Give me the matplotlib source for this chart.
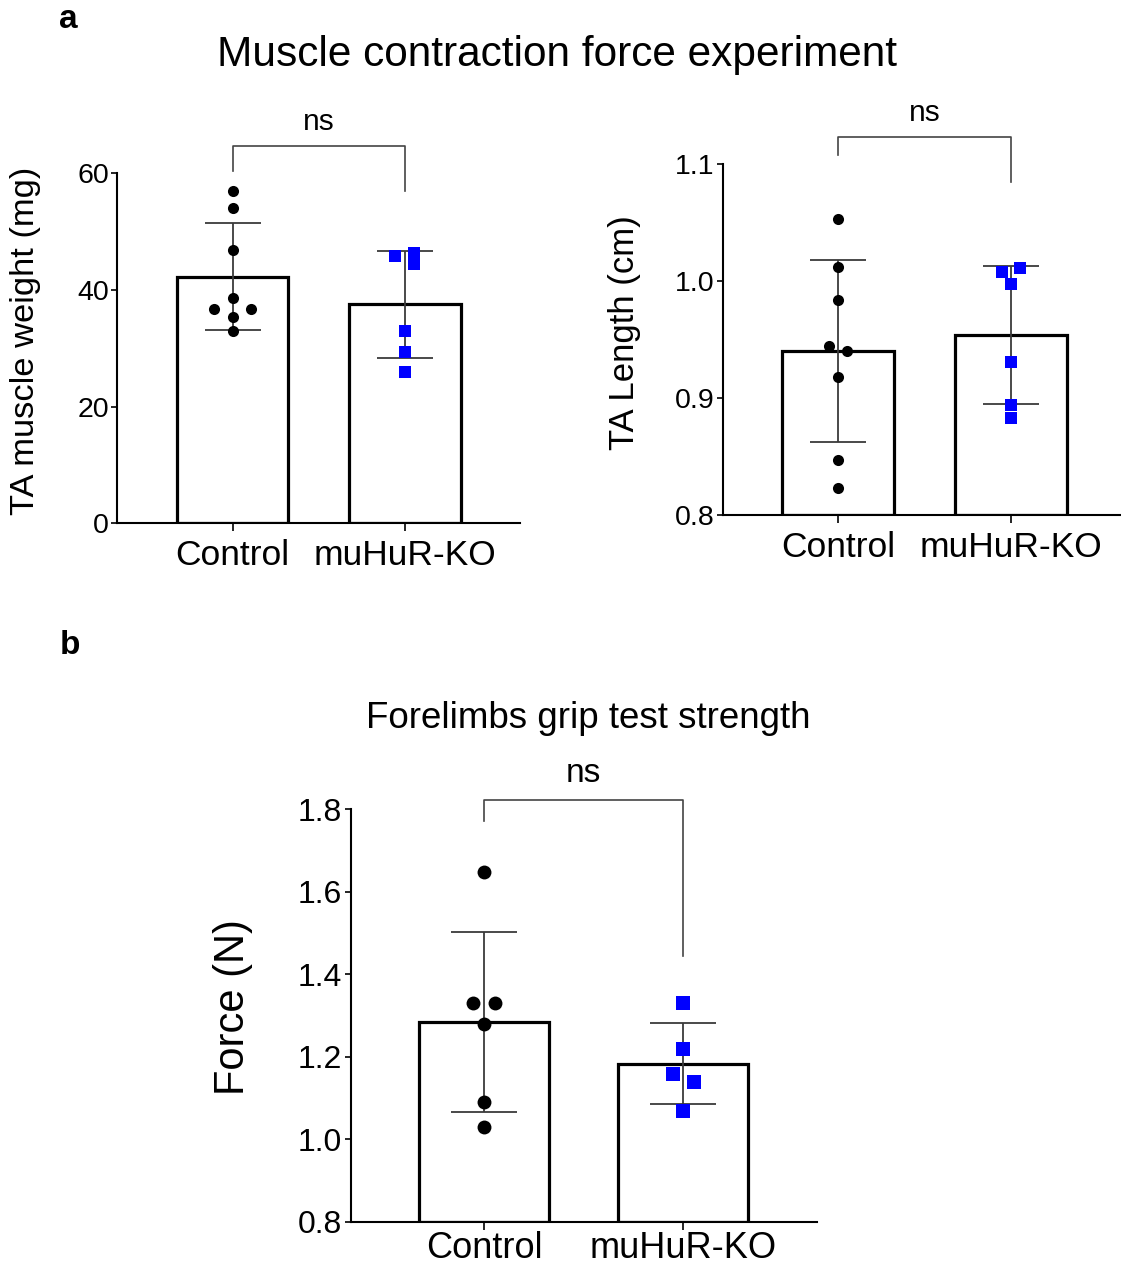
import numpy as np
import matplotlib.pyplot as plt

plt.rcParams["font.family"] = ["Liberation Sans", "DejaVu Sans"]

GROUPS = ["Control", "muHuR-KO"]

# panel a, left: TA muscle weight (mg)
weight_ctrl = [56.9, 54.1, 46.9, 38.7, 36.7, 36.7, 35.3, 32.9]
weight_ko = [45.9, 46.4, 44.5, 33.0, 29.4, 25.9]

# panel a, right: TA length (cm)
length_ctrl = [1.053, 1.012, 0.984, 0.945, 0.940, 0.918, 0.847, 0.823]
length_ko = [1.008, 1.011, 0.998, 0.931, 0.894, 0.883]

# panel b: forelimb grip force (N)
force_ctrl = [1.649, 1.330, 1.330, 1.279, 1.090, 1.029]
force_ko = [1.330, 1.220, 1.159, 1.140, 1.069]

# side-by-side spread of points with near-equal values (fraction of bar spacing)
weight_ctrl_dx = [0, 0, 0, 0, -0.105, 0.105, 0, 0]
weight_ko_dx = [-0.055, 0.055, 0.055, 0, 0, 0]
length_ctrl_dx = [0, 0, 0, -0.053, 0.053, 0, 0, 0]
length_ko_dx = [-0.053, 0.053, 0, 0, 0, 0]
force_ctrl_dx = [0, -0.054, 0.054, 0, 0, 0]
force_ko_dx = [0, 0, -0.053, 0.053, 0]

BLUE = "#0000ff"
ERR = "#3a3a3a"


def bar_panel(ax, ctrl, ko, ctrl_dx, ko_dx, ylim, yticks, fmt, capsize, msize,
              tick_fs, xtick_fs, bracket, ns_y, ns_fs, xpad=6):
    data = [np.array(ctrl), np.array(ko)]
    means = [d.mean() for d in data]
    sds = [d.std(ddof=1) for d in data]
    x = np.arange(2)
    ax.bar(x, [m - ylim[0] for m in means], bottom=ylim[0], width=0.65,
           color="white", edgecolor="black", linewidth=2.3, zorder=2)
    ax.errorbar(x, means, yerr=sds, fmt="none", ecolor=ERR, elinewidth=1.3,
                capsize=capsize, capthick=1.3, zorder=3)
    ax.scatter(x[0] + np.array(ctrl_dx), data[0], s=msize ** 2, color="black",
               marker="o", zorder=4, linewidths=0)
    ax.scatter(x[1] + np.array(ko_dx), data[1], s=msize ** 2, color=BLUE,
               marker="s", zorder=4, linewidths=0)

    # significance bracket
    top, left_end, right_end = bracket
    ax.plot([0, 0, 1, 1], [left_end, top, top, right_end], color="#444444",
            lw=1.2, clip_on=False, zorder=5)
    ax.text(0.5, ns_y, "ns", ha="center", va="center", fontsize=ns_fs)

    ax.set_ylim(*ylim)
    ax.set_yticks(yticks)
    ax.set_yticklabels([fmt.format(v) for v in yticks], fontsize=tick_fs)
    ax.set_xticks(x)
    ax.set_xticklabels(GROUPS, fontsize=xtick_fs)
    for side in ["top", "right"]:
        ax.spines[side].set_visible(False)
    for side in ["left", "bottom"]:
        ax.spines[side].set_linewidth(1.5)
    ax.tick_params(axis="y", length=4, width=1.2, pad=2)
    ax.tick_params(axis="x", length=5.5, width=1.2, pad=xpad)


fig = plt.figure(figsize=(11.21, 12.72), dpi=100)

ax1 = fig.add_axes([0.1046, 0.5886, 0.3592, 0.2752])
bar_panel(ax1, weight_ctrl, weight_ko, weight_ctrl_dx, weight_ko_dx,
          (0, 60), [0, 20, 40, 60], "{:.0f}", 20, 8, 20.5, 25.5,
          (64.7, 60.3, 56.9), 68.8, 21.5)
ax1.set_xlim(-0.67, 1.67)
ax1.set_ylabel("TA muscle weight (mg)", fontsize=24.8)
ax1.yaxis.set_label_coords(-0.19, 0.52)

ax2 = fig.add_axes([0.6447, 0.5951, 0.3541, 0.2757])
bar_panel(ax2, length_ctrl, length_ko, length_ctrl_dx, length_ko_dx,
          (0.8, 1.1), [0.8, 0.9, 1.0, 1.1], "{:.1f}", 20, 8, 20.5, 25.5,
          (1.1234, 1.108, 1.0846), 1.1439, 21.5)
ax2.set_xlim(-0.67, 1.63)
ax2.set_ylabel("TA Length (cm)", fontsize=25)
ax2.yaxis.set_label_coords(-0.205, 0.52)

ax3 = fig.add_axes([0.3128, 0.0395, 0.4157, 0.3242])
bar_panel(ax3, force_ctrl, force_ko, force_ctrl_dx, force_ko_dx,
          (0.8, 1.8), [0.8, 1.0, 1.2, 1.4, 1.6, 1.8], "{:.1f}", 24, 10, 23, 26,
          (1.8228, 1.7726, 1.445), 1.888, 24, xpad=1.5)
ax3.set_xlim(-0.67, 1.67)
ax3.set_ylabel("Force (N)", fontsize=30)
ax3.yaxis.set_label_coords(-0.21, 0.52)

fig.text(557 / 1121, 1 - 55 / 1272, "Muscle contraction force experiment",
         ha="center", va="center", fontsize=30.5)
fig.text(588 / 1121, 1 - 718 / 1272, "Forelimbs grip test strength",
         ha="center", va="center", fontsize=26.5)
fig.text(68 / 1121, 1 - 20 / 1272, "a", ha="center", va="center",
         fontsize=24, fontweight="bold")
fig.text(70 / 1121, 1 - 645 / 1272, "b", ha="center", va="center",
         fontsize=24, fontweight="bold")

fig.savefig("out.png", dpi=100)
